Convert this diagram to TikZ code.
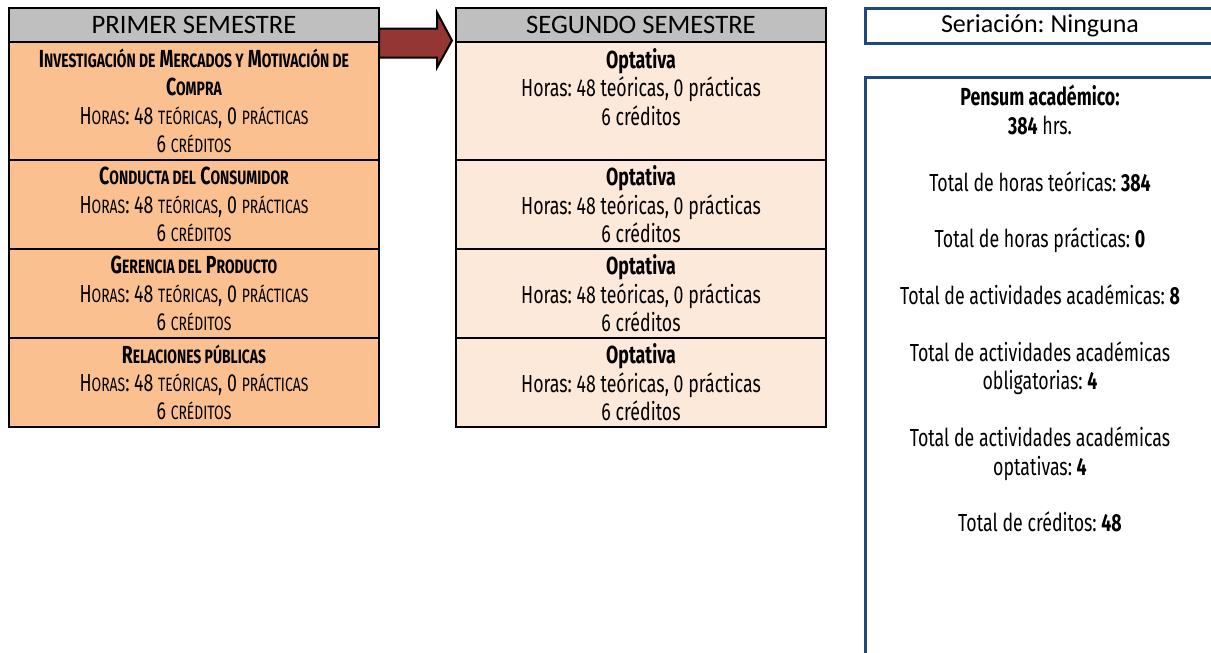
\documentclass[tikz,border=0pt]{standalone}
\usepackage{fontspec}
\usepackage{tikz}
\usetikzlibrary{positioning}
\newfontfamily\agency[FakeStretch=0.72]{Fira Sans}
\newfontfamily\calibri{Carlito}
\definecolor{naranja}{HTML}{FAC090}
\definecolor{durazno}{HTML}{FDE9D9}
\definecolor{gris}{HTML}{BFBFBF}
\definecolor{azul}{HTML}{1F497D}
\definecolor{vino}{HTML}{943634}
\def\px{0.75pt}
\def\espacio{21.3pt}
\frenchspacing
\newcommand\pc[1]{{\fontsize{14.5pt}{21.3pt}\selectfont\MakeUppercase{#1}}}
\tikzset{
 encabezado/.style={draw=black, line width=2*\px, fill=gris, minimum width=370*\px,
   minimum height=34*\px, inner sep=0pt, outer sep=0pt,
   font=\calibri\fontsize{20pt}{22pt}\selectfont},
 materia/.style={draw=black, line width=2*\px, minimum width=370*\px,
   align=center, inner sep=0pt, outer sep=0pt, minimum height=89*\px,
   font=\agency\fontsize{18.5pt}{21.3pt}\selectfont},
 obligatoria/.style={materia, fill=naranja},
 optativa/.style={materia, fill=durazno},
 recuadro/.style={draw=azul, line width=3*\px, minimum width=350*\px, inner sep=0pt, outer sep=0pt},
 flecha/.style={draw=black, line width=2*\px, fill=vino},
}

\begin{document}
\begin{tikzpicture}[x=0.75pt, y=-0.75pt]
        \useasboundingbox (0,0) rectangle (1211,653);
        \clip (0,0) rectangle (1211,653);
        % primer semestre
        \node[encabezado, anchor=north west] (p0) at (9,8) {PRIMER SEMESTRE};
        \node[obligatoria, minimum height=118*\px, below=0pt of p0] (p1)
          {\textbf{I\pc{nvestigación de} M\pc{ercados y} M\pc{otivación de}}\\ \textbf{C\pc{ompra}}\\
           H\pc{oras}: 48 \pc{teóricas}, 0 \pc{prácticas}\\ 6 \pc{créditos}};
        \node[obligatoria, below=0pt of p1] (p2)
          {\textbf{C\pc{onducta del} C\pc{onsumidor}}\\
           H\pc{oras}: 48 \pc{teóricas}, 0 \pc{prácticas}\\ 6 \pc{créditos}};
        \node[obligatoria, below=0pt of p2] (p3)
          {\textbf{G\pc{erencia del} P\pc{roducto}}\\
           H\pc{oras}: 48 \pc{teóricas}, 0 \pc{prácticas}\\ 6 \pc{créditos}};
        \node[obligatoria, below=0pt of p3] (p4)
          {\textbf{R\pc{elaciones públicas}}\\
           H\pc{oras}: 48 \pc{teóricas}, 0 \pc{prácticas}\\ 6 \pc{créditos}};
        % segundo semestre
        \node[encabezado, anchor=north west] (s0) at (456,8) {SEGUNDO SEMESTRE};
        \node[optativa, minimum height=118*\px, below=0pt of s0] (s1)
          {\textbf{Optativa}\\ Horas: 48 teóricas, 0 prácticas\\ 6 créditos\\ ~};
        \node[optativa, below=0pt of s1] (s2)
          {\textbf{Optativa}\\ Horas: 48 teóricas, 0 prácticas\\ 6 créditos};
        \node[optativa, below=0pt of s2] (s3)
          {\textbf{Optativa}\\ Horas: 48 teóricas, 0 prácticas\\ 6 créditos};
        \node[optativa, below=0pt of s3] (s4)
          {\textbf{Optativa}\\ Horas: 48 teóricas, 0 prácticas\\ 6 créditos};
        % flecha entre semestres
        \draw[flecha] ([yshift=-3.5*\px]p0.east) -- ++(58,0) -- ++(0,-16) -- ++(15,28)
          -- ++(-15,27) -- ++(0,-10) -- ++(-58,0) -- cycle;
        % resumen
        \node[recuadro, minimum height=35*\px, anchor=north west,
          font=\calibri\fontsize{19.5pt}{22pt}\selectfont] (seriacion) at (865,8)
          {Seriación: Ninguna};
        \node[recuadro, minimum height=600*\px, anchor=north west] (pensum) at (865,77) {};
        \node[below=8*\px of pensum.north, align=center, inner sep=0pt,
          font=\agency\fontsize{18.5pt}{21.3pt}\selectfont] (totales)
          {\textbf{Pensum académico:}\\ \textbf{384} hrs.\\[\espacio]
           Total de horas teóricas: \textbf{384}\\[\espacio]
           Total de horas prácticas: \textbf{0}\\[\espacio]
           Total de actividades académicas: \textbf{8}\\[\espacio]
           Total de actividades académicas\\ obligatorias: \textbf{4}\\[\espacio]
           Total de actividades académicas\\ optativas: \textbf{4}\\[\espacio]
           Total de créditos: \textbf{48}};
\end{tikzpicture}
\end{document}
